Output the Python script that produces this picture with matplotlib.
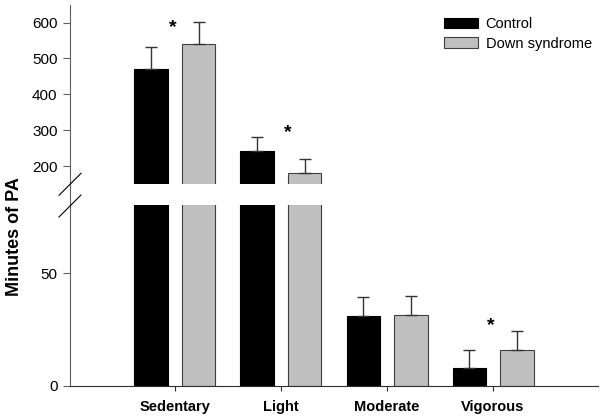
import matplotlib
matplotlib.use("Agg")
import matplotlib.pyplot as plt
from matplotlib.lines import Line2D
import numpy as np

plt.rcParams['font.family'] = ['Liberation Sans', 'DejaVu Sans']

categories = ["Sedentary", "Light", "Moderate", "Vigorous"]
control = [470, 243, 31.1, 7.7]
control_err = [61, 39, 8.4, 8.1]
down = [540, 180, 31.2, 16.0]
down_err = [61, 40, 8.7, 8.3]
series_names = ["Control", "Down syndrome"]
star_x = [-0.02, 1.06, 2.98]
star_y = [585, 292, 26.5]

W, H = 600, 416
fig = plt.figure(figsize=(6, 4.16), dpi=100)

def fx(px):
    return px / W

def fy(py):
    return 1 - py / H

left, right = 70, 598
ax_up = fig.add_axes([fx(left), fy(184.3), fx(right - left), (184.3 - 5) / H])
ax_lo = fig.add_axes([fx(left), fy(385.7), fx(right - left), (385.7 - 205) / H])

x = np.arange(len(categories))
width = 0.32
off = 0.222
spine_col = "#606060"
err_kw = dict(ecolor="#333333", elinewidth=1.0, capsize=4, capthick=1.0)

for ax in (ax_up, ax_lo):
    ax.bar(x - off, control, width, color="black", edgecolor="black", linewidth=0.8,
           label=series_names[0])
    ax.bar(x + off, down, width, color="#c0c0c0", edgecolor="#404040", linewidth=0.8,
           label=series_names[1])
    ax.errorbar(x - off, control, yerr=[np.zeros(4), control_err], fmt="none", **err_kw)
    ax.errorbar(x + off, down, yerr=[np.zeros(4), down_err], fmt="none", **err_kw)
    ax.set_xlim(-0.99, 3.99)
    for s in ("top", "right"):
        ax.spines[s].set_visible(False)
    ax.spines["left"].set_color(spine_col)
    ax.tick_params(axis="y", direction="out", length=5, width=0.8, color=spine_col,
                   labelsize=11, pad=4)

ax_up.set_ylim(149, 649)
ax_up.set_yticks([200, 300, 400, 500, 600])
ax_up.spines["bottom"].set_visible(False)
ax_up.tick_params(axis="x", bottom=False, labelbottom=False)

ax_lo.set_ylim(0, 80.2)
ax_lo.set_yticks([0, 50])
ax_lo.spines["bottom"].set_color("#303030")
ax_lo.set_xticks(x)
ax_lo.set_xticklabels(categories, fontweight="bold", fontsize=10.5)
ax_lo.tick_params(axis="x", direction="out", length=3.5, width=0.8, color="#303030", pad=6.5)

# asterisks
ax_up.text(star_x[0], star_y[0], "*", ha="center", va="center", fontsize=14, fontweight="bold")
ax_up.text(star_x[1], star_y[1], "*", ha="center", va="center", fontsize=14, fontweight="bold")
ax_lo.text(star_x[2], star_y[2], "*", ha="center", va="center", fontsize=14, fontweight="bold")

# continuous spine through gap and break marks
fig.add_artist(Line2D([fx(left), fx(left)], [fy(184.3), fy(205)], color=spine_col, lw=0.8))
for cy in (184.3, 206):
    fig.add_artist(Line2D([fx(59), fx(81)], [fy(cy + 11), fy(cy - 11)], color="black", lw=0.8))

# y label
fig.text(fx(15), fy(237), "Minutes of PA", rotation=90, ha="center", va="center",
         fontsize=13, fontweight="bold")

# legend
fig.legend(loc="upper left", bbox_to_anchor=(fx(444), fy(17)),
           frameon=False, fontsize=10.5, handlelength=2.3, handleheight=0.75,
           labelspacing=0.38, handletextpad=0.55, borderaxespad=0, borderpad=0,
           handles=ax_up.get_legend_handles_labels()[0][:2],
           labels=series_names)

fig.savefig("out.png", dpi=100)
